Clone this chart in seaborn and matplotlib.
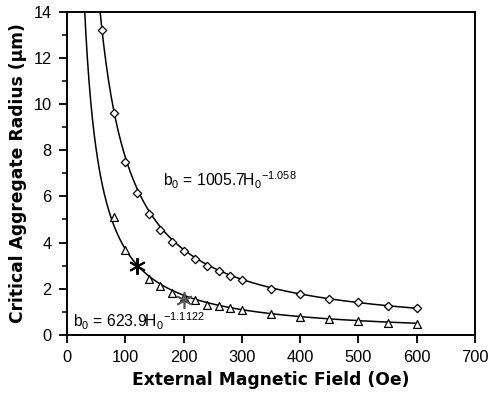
import matplotlib
matplotlib.use("Agg")
import matplotlib.pyplot as plt
import numpy as np
import pandas as pd
import seaborn as sns
from matplotlib.ticker import MultipleLocator

# data
field_upper = [60, 80, 100, 120, 140, 160, 180, 200, 220, 240, 260, 280, 300,
               350, 400, 450, 500, 550, 600]
radius_upper = [13.2, 9.6, 7.5, 6.15, 5.24, 4.55, 4.02, 3.63, 3.29, 3.00, 2.76,
                2.56, 2.37, 2.01, 1.77, 1.55, 1.43, 1.25, 1.15]

field_lower = [80, 100, 140, 160, 180, 200, 220, 240, 260, 280, 300,
               350, 400, 450, 500, 550, 600]
radius_lower = [5.10, 3.70, 2.44, 2.11, 1.82, 1.65, 1.51, 1.29, 1.24, 1.18, 1.08,
                0.90, 0.77, 0.69, 0.62, 0.52, 0.49]

star_field = [120, 200]
star_radius = [3.0, 1.5]

# power-law fits as printed on the chart: b0 = a * H0^b
fit_upper = (1005.7, -1.058)
fit_lower = (623.9, -1.1122)

sns.set_style("ticks")
plt.rcParams["font.family"] = ["Liberation Sans", "DejaVu Sans"]
plt.rcParams["mathtext.default"] = "regular"
plt.rcParams["text.color"] = "black"
plt.rcParams["axes.labelcolor"] = "black"

fig = plt.figure(figsize=(4.9, 4.07), dpi=100)
ax = fig.add_axes([0.1367, 0.1769, 0.8327, 0.7948])

# --- fit curves ---
h = np.linspace(25, 600, 400)
for a, b in [fit_upper, fit_lower]:
    curve = pd.DataFrame({"H": h, "r": a * h ** b})
    sns.lineplot(data=curve, x="H", y="r", color="black", linewidth=1.1, ax=ax)

# --- measured points ---
sns.scatterplot(x=field_upper, y=radius_upper, marker="D", s=18, facecolor="white",
                edgecolor="black", linewidth=0.9, ax=ax, zorder=3)
sns.scatterplot(x=field_lower, y=radius_lower, marker="^", s=32, facecolor="white",
                edgecolor="black", linewidth=0.9, ax=ax, zorder=3)

# --- asterisks ---
ax.plot(star_field[0], star_radius[0], marker=(6, 2, 0), markersize=12,
        markeredgewidth=1.4, color="black", zorder=4)
ax.plot(star_field[1], star_radius[1], marker=(6, 2, 0), markersize=12,
        markeredgewidth=1.2, color="#555555", zorder=4)

# --- fit labels ---
ax.text(164, 6.45, r"b$_0$ = 1005.7H$_0$$^{-1.058}$", fontsize=11.3, color="black")
ax.text(10, 0.35, r"b$_0$ = 623.9H$_0$$^{-1.1122}$", fontsize=11.3, color="black")

# --- formatting ---
ax.set_xlim(0, 700)
ax.set_ylim(0, 14)
ax.xaxis.set_major_locator(MultipleLocator(100))
ax.yaxis.set_major_locator(MultipleLocator(2))
ax.yaxis.set_minor_locator(MultipleLocator(1))
ax.tick_params(which="major", direction="out", length=6, width=1.3,
               labelsize=11.8, colors="black", pad=5)
ax.tick_params(which="minor", direction="out", length=3.5, width=1.1, colors="black")
for s in ax.spines.values():
    s.set_visible(True)
    s.set_linewidth(1.4)
    s.set_color("black")

label_font = {"family": "DejaVu Sans", "size": 12.3, "weight": "bold", "color": "black"}
ax.set_xlabel("External Magnetic Field (Oe)", fontdict=label_font, labelpad=4)
ax.set_ylabel("Critical Aggregate Radius (μm)", fontdict=label_font, labelpad=5)

fig.savefig("out.png", dpi=100)
